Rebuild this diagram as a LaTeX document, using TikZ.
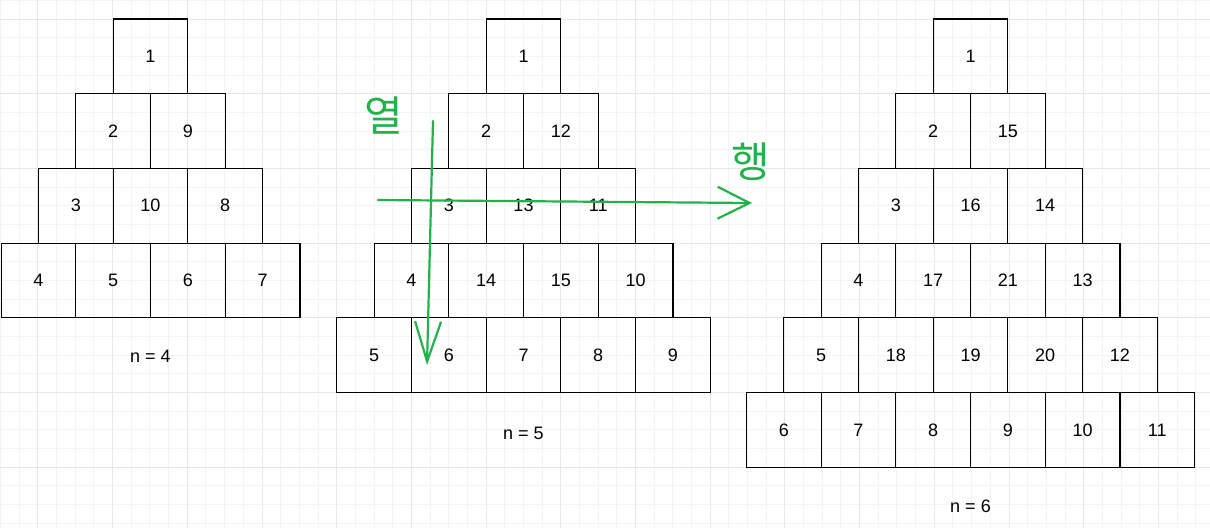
\documentclass[tikz,border=0pt]{standalone}
\usepackage{fontspec}
\setmainfont{Liberation Sans}
\newfontfamily\kr{Noto Sans CJK KR}
\usetikzlibrary{arrows.meta}
\definecolor{pen}{RGB}{34,177,76}
\definecolor{gridminor}{RGB}{244,244,244}
\definecolor{gridmajor}{RGB}{232,232,232}
\begin{document}
\begin{tikzpicture}[
    cell/.style={draw, line width=1.2pt, minimum size=74.7pt, inner sep=0pt, font=\fontsize{18}{18}\selectfont},
    caption/.style={font=\fontsize{18}{18}\selectfont},
    pen_style/.style={draw=pen, line width=2.2pt, line cap=round, line join=round},
    hand/.style={text=pen, inner sep=0pt, font=\kr\fontsize{42}{42}\selectfont}
]
\begin{scope}[x=1pt, y=-1pt]
\useasboundingbox (0,0) rectangle (1210,528);
% background grid
\foreach \x in {0,...,64} {
    \draw[gridminor, line width=0.8pt] ({0.45+\x*18.675},0) -- ({0.45+\x*18.675},528);
}
\foreach \y in {0,...,28} {
    \draw[gridminor, line width=0.8pt] (0,{0.3+\y*18.675}) -- (1210,{0.3+\y*18.675});
}
\foreach \x in {0,...,16} {
    \draw[gridmajor, line width=0.8pt] ({37.8+\x*74.7},0) -- ({37.8+\x*74.7},528);
}
\foreach \y in {0,...,7} {
    \draw[gridmajor, line width=0.8pt] (0,{19+\y*74.7}) -- (1210,{19+\y*74.7});
}
% n = 4
\begin{scope}[shift={(150.5,19)}]
    \foreach \row [count=\r from 0] in {{1},{2,9},{3,10,8},{4,5,6,7}} {
        \foreach \v [count=\k from 0] in \row {
            \node[cell] (a\r\k) at ({(\k-\r/2)*74.7}, {\r*74.7+37.35}) {\v};
        }
    }
    \node[caption] (n4) at (0,337) {n = 4};
\end{scope}
% n = 5
\begin{scope}[shift={(523.5,19)}]
    \foreach \row [count=\r from 0] in {{1},{2,12},{3,13,11},{4,14,15,10},{5,6,7,8,9}} {
        \foreach \v [count=\k from 0] in \row {
            \node[cell] (b\r\k) at ({(\k-\r/2)*74.7}, {\r*74.7+37.35}) {\v};
        }
    }
    \node[caption] (n5) at (0,414) {n = 5};
\end{scope}
% n = 6
\begin{scope}[shift={(970.5,19)}]
    \foreach \row [count=\r from 0] in {{1},{2,15},{3,16,14},{4,17,21,13},{5,18,19,20,12},{6,7,8,9,10,11}} {
        \foreach \v [count=\k from 0] in \row {
            \node[cell] (c\r\k) at ({(\k-\r/2)*74.7}, {\r*74.7+37.35}) {\v};
        }
    }
    \node[caption] (n6) at (0,487) {n = 6};
\end{scope}
% green pen marks
\coordinate (colTop) at (433,121);
\coordinate (colEnd) at (427,365);
\coordinate (rowStart) at (378,200);
\coordinate (rowEnd) at (752,203);
\draw[pen_style, -{Straight Barb[length=40pt, width=26pt, line width=2.2pt]}] (colTop) -- (colEnd);
\draw[pen_style, -{Straight Barb[length=32pt, width=32pt, line width=2.2pt]}] (rowStart) -- (rowEnd);
\node[hand] (colLabel) at (384,116) {열};
\node[hand] (rowLabel) at (751,162) {행};
\end{scope}
\end{tikzpicture}
\end{document}
